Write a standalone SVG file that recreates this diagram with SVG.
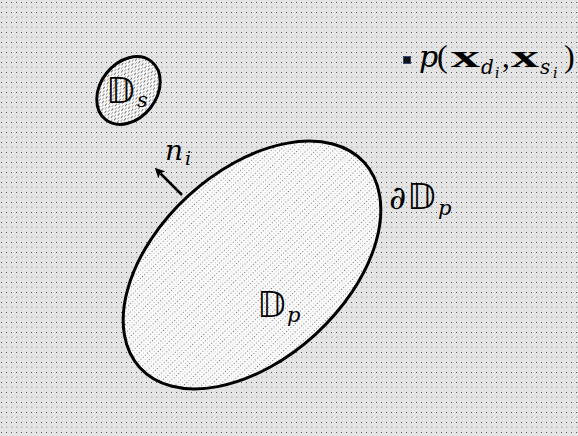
<svg xmlns="http://www.w3.org/2000/svg" width="578" height="436" viewBox="0 0 578 436">
<defs>
<pattern id="bg" width="5" height="10" patternUnits="userSpaceOnUse">
<rect width="5" height="10" fill="#e4e4e4"/>
<rect x="1" y="2" width="1" height="1" fill="#555"/>
<rect x="1" y="6.5" width="1.5" height="1.5" fill="#b8b8b8"/>
</pattern>
<pattern id="dense" width="3" height="6" patternUnits="userSpaceOnUse">
<rect width="3" height="6" fill="#fbfbfb"/>
<rect x="1" y="1" width="1" height="1" fill="#777"/>
<rect x="1" y="4" width="1" height="1" fill="#c0c0c0"/>
</pattern>
<pattern id="dash" width="6" height="4" patternUnits="userSpaceOnUse">
<rect width="6" height="4" fill="#fafafa"/>
<rect x="0" y="1" width="3" height="1" fill="#777"/>
<rect x="3" y="3" width="3" height="1" fill="#aaa"/>
</pattern>
<marker id="arr" viewBox="0 0 10 10" refX="2" refY="5" markerWidth="10" markerHeight="10" markerUnits="userSpaceOnUse" orient="auto">
<path d="M0,0 L10,5 L0,10 L2.5,5 Z" fill="#000"/>
</marker>
<style>
.m{font-family:"Liberation Serif","DejaVu Serif",serif;fill:#000}
.i{font-family:"DejaVu Serif","Liberation Serif",serif;font-style:italic;fill:#000}
.bb{font-family:"DejaVu Sans","DejaVu Serif",serif;fill:#000}
.bf{font-weight:bold}
</style>
</defs>
<rect width="578" height="436" fill="url(#bg)"/>
<g id="domain-p">
<ellipse cx="252" cy="265" rx="152" ry="94" transform="rotate(-42.5 252 265)" fill="url(#dense)" stroke="#000" stroke-width="3"/>
<text class="bb" x="257" y="317" font-size="35">𝔻</text>
<text class="i" x="287" y="322" font-size="21">p</text>
</g>
<g id="domain-s">
<ellipse cx="128.5" cy="90.5" rx="37" ry="28" transform="rotate(-52 128.5 90.5)" fill="url(#dash)" stroke="#000" stroke-width="3"/>
<text class="bb" x="106" y="103" font-size="35">𝔻</text>
<text class="i" x="137" y="107" font-size="21">s</text>
</g>
<g id="boundary-label">
<text class="i" x="389" y="209" font-size="33">∂</text>
<text class="bb" x="407" y="209" font-size="35">𝔻</text>
<text class="i" x="438" y="215" font-size="21">p</text>
</g>
<g id="point-label">
<rect x="403.5" y="56.5" width="7" height="7" fill="#111" stroke="#34497a" stroke-width="1"/>
<text class="i" x="419" y="67" font-size="30">p</text>
<text class="m" x="437" y="67" font-size="32">(</text>
<text class="m bf" x="451" y="67" font-size="31" textLength="29" lengthAdjust="spacingAndGlyphs">x</text>
<text class="i" x="481" y="74" font-size="20">d</text>
<text class="i" x="495" y="78" font-size="14">i</text>
<text class="m" x="502" y="67" font-size="31">,</text>
<text class="m bf" x="511" y="67" font-size="31" textLength="28" lengthAdjust="spacingAndGlyphs">x</text>
<text class="i" x="540" y="74" font-size="20">s</text>
<text class="i" x="553" y="78" font-size="14">i</text>
<text class="m" x="564" y="67" font-size="32">)</text>
</g>
<g id="normal-label">
<text class="i" x="165" y="160" font-size="28">n</text>
<text class="i" x="185" y="165" font-size="19">i</text>
</g>
<g id="connectors">
<line x1="182" y1="195" x2="160.5" y2="173.5" stroke="#000" stroke-width="2.5" marker-end="url(#arr)"/>
</g>
</svg>
